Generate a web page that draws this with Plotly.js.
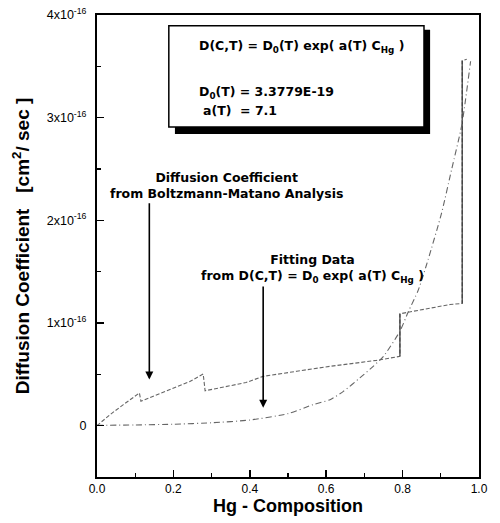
<!DOCTYPE html>
<html>
<head>
<meta charset="utf-8">
<script src="https://cdn.plot.ly/plotly-3.0.1.min.js"></script>
<style>html,body{margin:0;padding:0;background:#fff}#chart{width:500px;height:523px}</style>
</head>
<body>
<div id="chart"></div>
<script>
// Boltzmann-Matano diffusion coefficient (units of 1e-16 cm^2/sec) vs Hg composition
const bmC = [0, 0.034, 0.069, 0.111, 0.115, 0.2, 0.243, 0.278, 0.283, 0.39, 0.435, 0.523, 0.61, 0.732, 0.793, 0.793, 0.824, 0.924, 0.956, 0.956, 0.968];
const bmD = [0, 0.107, 0.205, 0.318, 0.237, 0.367, 0.43, 0.503, 0.34, 0.42, 0.48, 0.53, 0.578, 0.636, 0.675, 1.09, 1.11, 1.18, 1.19, 3.555, 3.57];
// Fitting curve D = D0 exp(a C) (units of 1e-16)
const fitC = [0, 0.1, 0.2, 0.3, 0.4, 0.5, 0.566, 0.61, 0.645, 0.688, 0.723, 0.75, 0.793, 0.815, 0.841, 0.867, 0.902, 0.928, 0.955, 0.978];
const fitD = [0.003, 0.007, 0.014, 0.028, 0.055, 0.117, 0.205, 0.253, 0.334, 0.465, 0.578, 0.675, 0.92, 1.11, 1.32, 1.62, 2.07, 2.49, 2.93, 3.55];
// Tick labels
const xTickVals = [0, 0.2, 0.4, 0.6, 0.8, 1.0];
const xTickText = ["0.0", "0.2", "0.4", "0.6", "0.8", "1.0"];
const yTickVals = [0, 1, 2, 3, 4];
const yTickText = ["0", "1x10<sup>-16</sup>", "2x10<sup>-16</sup>", "3x10<sup>-16</sup>", "4x10<sup>-16</sup>"];

const FONT = "Liberation Sans, Arial, sans-serif";
const AFONT = "DejaVu Sans, Liberation Sans, sans-serif";

// solid vertical jump segments derived from the data arrays
const jumpTraces = [];
for (let i = 1; i < bmC.length; i++) {
  if (bmC[i] === bmC[i - 1]) {
    jumpTraces.push({
      x: [bmC[i - 1], bmC[i]], y: [bmD[i - 1], bmD[i]], mode: 'lines',
      line: {color: '#333', width: 1.2}, hoverinfo: 'skip', showlegend: false
    });
  }
}

const traces = [
  {x: bmC, y: bmD, mode: 'lines', name: 'Boltzmann-Matano',
   line: {color: '#666', width: 1.1, dash: '4px,2px'}},
  ...jumpTraces,
  {x: fitC, y: fitD, mode: 'lines', name: 'Fit',
   line: {color: '#666', width: 1.1, dash: '6px,3px,1px,3px', shape: 'spline', smoothing: 0.6}}
];

const layout = {
  width: 500, height: 523,
  margin: {l: 97, r: 21, t: 15, b: 46},
  paper_bgcolor: '#fff', plot_bgcolor: '#fff',
  showlegend: false,
  font: {family: FONT, color: '#000'},
  xaxis: {
    range: [0, 1], tickvals: xTickVals, ticktext: xTickText,
    ticks: 'inside', ticklen: 7, tickwidth: 1.5, tickcolor: '#000',
    minor: {dtick: 0.1, tick0: 0, ticks: 'inside', ticklen: 4, tickwidth: 1.2, tickcolor: '#000'},
    showline: true, linewidth: 2, linecolor: '#000', mirror: true,
    showgrid: false, zeroline: false,
    tickfont: {size: 12, family: FONT},
    title: {text: '<b>Hg - Composition</b>', font: {size: 18, family: FONT}, standoff: 4}
  },
  yaxis: {
    range: [-0.5, 4], tickvals: yTickVals, ticktext: yTickText,
    ticks: 'inside', ticklen: 7, tickwidth: 1.5, tickcolor: '#000',
    minor: {dtick: 0.5, tick0: 0, ticks: 'inside', ticklen: 4, tickwidth: 1.2, tickcolor: '#000'},
    showline: true, linewidth: 2, linecolor: '#000', mirror: true,
    showgrid: false, zeroline: false,
    ticklabelstandoff: 6,
    tickfont: {size: 12.5, family: FONT},
    title: {text: '<b>Diffusion Coefficient   [cm<sup>2</sup>/ sec ]</b>', font: {size: 19, family: FONT}, standoff: 12}
  },
  shapes: [
    {type: 'rect', xref: 'x', yref: 'y', x0: 0.204, x1: 0.872, y0: 2.84, y1: 3.857,
     fillcolor: '#000', line: {width: 0}, layer: 'above'},
    {type: 'rect', xref: 'x', yref: 'y', x0: 0.188, x1: 0.856, y0: 2.91, y1: 3.896,
     fillcolor: '#fff', line: {color: '#000', width: 1.5}, layer: 'above'}
  ],
  annotations: [
    {xref: 'x', yref: 'y', x: 0.262, y: 3.69, xanchor: 'left', yanchor: 'middle', showarrow: false,
     text: '<b>D(C,T) = D<sub>0</sub>(T) exp( a(T) C<sub>Hg</sub> )</b>', font: {size: 12.5, family: AFONT}},
    {xref: 'x', yref: 'y', x: 0.262, y: 3.25, xanchor: 'left', yanchor: 'middle', showarrow: false,
     text: '<b>D<sub>0</sub>(T) = 3.3779E-19</b>', font: {size: 12.5, family: AFONT}},
    {xref: 'x', yref: 'y', x: 0.272, y: 3.07, xanchor: 'left', yanchor: 'middle', showarrow: false,
     text: '<b>a(T)\u00a0\u00a0= 7.1</b>', font: {size: 12.5, family: AFONT}},
    {xref: 'x', yref: 'y', x: 0.34, y: 2.34, xanchor: 'center', yanchor: 'middle', showarrow: false,
     text: '<b>Diffusion Coefficient<br>from Boltzmann-Matano Analysis</b>', font: {size: 12.5, family: AFONT}},
    {xref: 'x', yref: 'y', x: 0.565, y: 1.534, xanchor: 'center', yanchor: 'middle', showarrow: false,
     text: '<b>Fitting Data<br>from D(C,T) = D<sub>0</sub> exp( a(T) C<sub>Hg</sub> )</b>', font: {size: 12.5, family: AFONT}},
    {xref: 'x', yref: 'y', axref: 'x', ayref: 'y', x: 0.137, y: 0.45, ax: 0.137, ay: 2.18, text: '',
     showarrow: true, arrowhead: 2, arrowsize: 1, arrowwidth: 1.6, arrowcolor: '#000'},
    {xref: 'x', yref: 'y', axref: 'x', ayref: 'y', x: 0.435, y: 0.175, ax: 0.435, ay: 1.37, text: '',
     showarrow: true, arrowhead: 2, arrowsize: 1, arrowwidth: 1.6, arrowcolor: '#000'}
  ]
};

Plotly.newPlot('chart', traces, layout, {staticPlot: true, displayModeBar: false});
</script>
</body>
</html>
